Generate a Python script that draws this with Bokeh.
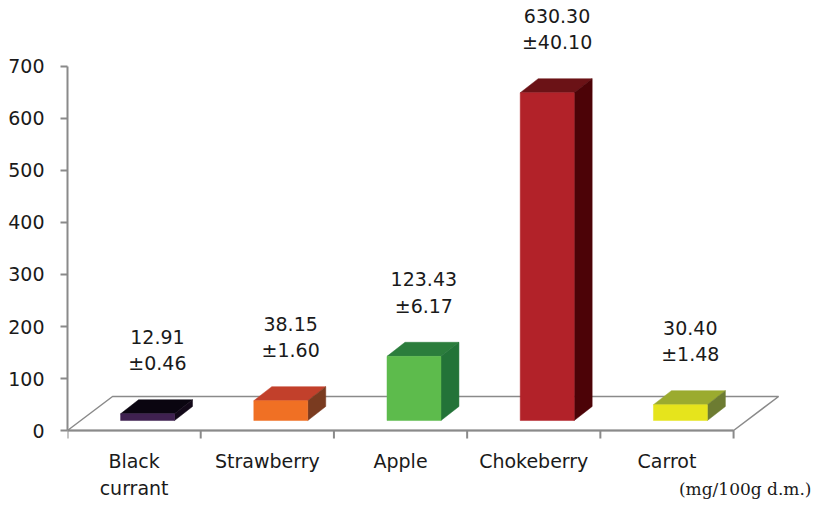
from bokeh.plotting import figure
from bokeh.models import FixedTicker, ColumnDataSource
from bokeh.core.properties import value
from bokeh.embed import file_html
from bokeh.resources import INLINE

# ---- data ----
categories = ["Black\ncurrant", "Strawberry", "Apple", "Chokeberry", "Carrot"]
means = [12.91, 38.15, 123.43, 630.30, 30.40]
errors = [0.46, 1.60, 6.17, 40.10, 1.48]
y_ticks = [0, 100, 200, 300, 400, 500, 600, 700]
unit_label = "(mg/100g d.m.)"

front_colors = ["#3f2150", "#f07024", "#5dbb4c", "#b22229", "#e6e41c"]
top_colors = ["#0a0510", "#c2402b", "#2b7d3c", "#6b1216", "#9bab2f"]
side_colors = ["#120818", "#7a3b20", "#237338", "#4c0307", "#6d7c32"]

# ---- geometry (style) ----
n = len(categories)
floor_dx, floor_dy = 0.338, 65.4      # depth of floor
bar_off_x, bar_off_y = 0.101, 19.2    # bar front plane offset
bar_dx, bar_dy = 0.135, 27.0          # bar depth
bar_w = 0.405
label_gap = 142
tick_len = 15.4                       # 8 px downward ticks

FONT = "DejaVu Sans"
GRAY = "#8a8a8a"
TXT = "#1a1a1a"

p = figure(width=813, height=500, x_range=(0, 5.6), y_range=(-134.6, 826.9),
           output_backend="svg", toolbar_location=None, x_axis_location=None,
           min_border_left=67, min_border_right=0, min_border_top=0,
           min_border_bottom=0)
p.outline_line_color = None
p.background_fill_color = "white"
p.border_fill_color = "white"
p.grid.visible = False

# floor
p.patch([0, n, n + floor_dx, floor_dx], [0, 0, floor_dy, floor_dy],
        fill_color="white", line_color=GRAY, line_width=1.5)

# category axis line + ticks at category boundaries
bounds_x = list(range(n + 1))
p.line([0, n], [0, 0], line_color=GRAY, line_width=2)
p.segment(x0=bounds_x, y0=[0] * (n + 1), x1=bounds_x, y1=[-tick_len] * (n + 1),
          line_color=GRAY, line_width=2)

# bars
fx0 = [i + 0.5 + bar_off_x - bar_w / 2 for i in range(n)]
fx1 = [x + bar_w for x in fx0]
fy0 = [bar_off_y] * n
fy1 = [bar_off_y + v for v in means]

tops_x = [[a, b, b + bar_dx, a + bar_dx] for a, b in zip(fx0, fx1)]
tops_y = [[t, t, t + bar_dy, t + bar_dy] for t in fy1]
sides_x = [[b, b + bar_dx, b + bar_dx, b] for b in fx1]
sides_y = [[y0, y0 + bar_dy, t + bar_dy, t] for y0, t in zip(fy0, fy1)]

p.patches(tops_x, tops_y, fill_color=top_colors, line_color=top_colors, line_width=0.5)
p.patches(sides_x, sides_y, fill_color=side_colors, line_color=side_colors, line_width=0.5)
p.quad(left=fx0, right=fx1, bottom=fy0, top=fy1,
       fill_color=front_colors, line_color=front_colors, line_width=0.5)

# value labels
lab_src = ColumnDataSource(dict(
    x=[i + 0.675 for i in range(n)],
    y=[v + label_gap for v in means],
    t=[f"{m:.2f}\n\u00b1{e:.2f}" for m, e in zip(means, errors)],
))
p.text(x="x", y="y", text="t", source=lab_src, text_font=value(FONT),
       text_font_size="19px", text_color=TXT, text_align="center",
       text_baseline="middle", text_line_height=1.2)

# category labels
cat_src = ColumnDataSource(dict(
    x=[i + 0.5 for i in range(n)],
    y=[-38] * n,
    t=categories,
))
p.text(x="x", y="y", text="t", source=cat_src, text_font=value(FONT),
       text_font_size="19px", text_color=TXT, text_align="center",
       text_baseline="top", text_line_height=1.2)

# unit label
p.text(x=[5.585], y=[-112], text=[unit_label], text_font=value("DejaVu Serif"),
       text_font_size="17px", text_color=TXT, text_align="right",
       text_baseline="middle")

# y axis
ya = p.yaxis[0]
ya.ticker = FixedTicker(ticks=y_ticks, minor_ticks=[])
ya.bounds = (0, 700)
ya.axis_line_color = GRAY
ya.axis_line_width = 2
ya.major_tick_line_color = GRAY
ya.major_tick_line_width = 2
ya.major_tick_in = 0
ya.major_tick_out = 7
ya.minor_tick_line_color = None
ya.major_label_standoff = 16
ya.major_label_text_font = FONT
ya.major_label_text_font_size = "19px"
ya.major_label_text_color = TXT

open("out.html", "w").write(file_html(p, INLINE))
